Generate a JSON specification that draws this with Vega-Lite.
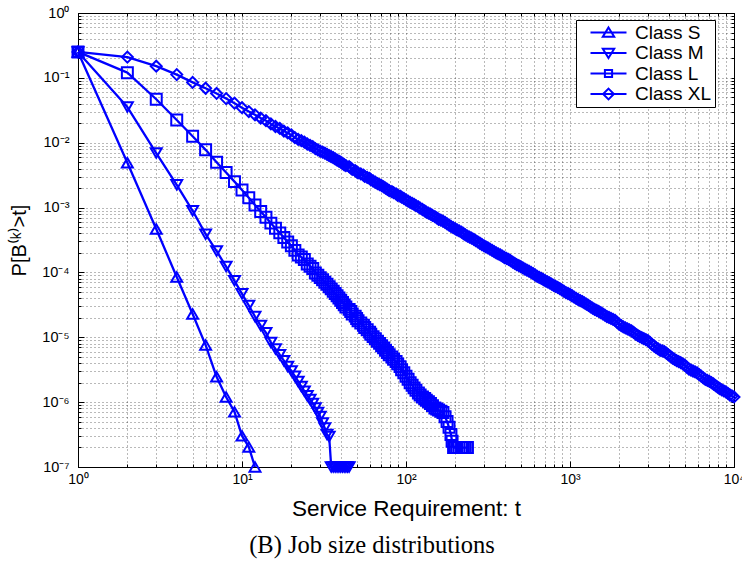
{
  "$schema": "https://vega.github.io/schema/vega-lite/v6.json",
  "width": 656,
  "height": 454,
  "autosize": {"type": "none"},
  "padding": {"left": 78, "top": 13, "right": 8, "bottom": 96},
  "background": "white",
  "title": {"text": "(B) Job size distributions", "orient": "bottom", "anchor": "middle", "frame": "group", "dx": -34, "offset": 14, "font": "Liberation Serif", "fontSize": 24.5, "fontWeight": "normal", "color": "#000"},
  "config": {
    "view": {"stroke": "#000", "strokeWidth": 1},
    "axis": {"labelFont": "Liberation Sans", "titleFont": "Liberation Sans", "tickColor": "#000", "labelColor": "#000", "titleColor": "#000", "domain": false, "labelFlush": false}
  },
  "data": {"values": [
    {"c":"Class S","t":1,"p":0.2512},{"c":"Class S","t":2,"p":4.898e-3},{"c":"Class S","t":3,"p":4.677e-4},{"c":"Class S","t":4,"p":8.511e-5},{"c":"Class S","t":5,"p":2.291e-5},{"c":"Class S","t":6,"p":7.586e-6},{"c":"Class S","t":7,"p":2.455e-6},{"c":"Class S","t":8,"p":1.202e-6},{"c":"Class S","t":9,"p":7.079e-7},{"c":"Class S","t":10,"p":3.020e-7},{"c":"Class S","t":11,"p":2.042e-7},{"c":"Class S","t":12,"p":1e-7},
    {"c":"Class M","t":1,"p":0.2512},{"c":"Class M","t":2,"p":3.548e-2},{"c":"Class M","t":3,"p":6.918e-3},{"c":"Class M","t":4,"p":2.239e-3},{"c":"Class M","t":5,"p":8.913e-4},{"c":"Class M","t":6,"p":3.890e-4},{"c":"Class M","t":7,"p":2.138e-4},{"c":"Class M","t":8,"p":1.230e-4},{"c":"Class M","t":9,"p":7.413e-5},{"c":"Class M","t":10,"p":4.677e-5},{"c":"Class M","t":11,"p":3.090e-5},{"c":"Class M","t":12,"p":2.089e-5},{"c":"Class M","t":13,"p":1.514e-5},{"c":"Class M","t":14,"p":1.175e-5},{"c":"Class M","t":15,"p":8.318e-6},{"c":"Class M","t":16,"p":6.607e-6},{"c":"Class M","t":17,"p":5.370e-6},{"c":"Class M","t":18,"p":4.365e-6},{"c":"Class M","t":19,"p":3.548e-6},{"c":"Class M","t":20,"p":3.020e-6},{"c":"Class M","t":21,"p":2.512e-6},{"c":"Class M","t":22,"p":2.089e-6},{"c":"Class M","t":23,"p":1.738e-6},{"c":"Class M","t":24,"p":1.479e-6},{"c":"Class M","t":25,"p":1.259e-6},{"c":"Class M","t":26,"p":1.096e-6},{"c":"Class M","t":27,"p":9.550e-7},{"c":"Class M","t":28,"p":8.128e-7},{"c":"Class M","t":29,"p":6.918e-7},{"c":"Class M","t":30,"p":6.026e-7},{"c":"Class M","t":31,"p":4.786e-7},{"c":"Class M","t":32,"p":3.981e-7},{"c":"Class M","t":33,"p":3.162e-7},{"c":"Class M","t":34,"p":2.951e-7},{"c":"Class M","t":35,"p":1e-7},{"c":"Class M","t":36,"p":1e-7},{"c":"Class M","t":37,"p":1e-7},{"c":"Class M","t":38,"p":1e-7},{"c":"Class M","t":39,"p":1e-7},{"c":"Class M","t":40,"p":1e-7},{"c":"Class M","t":41,"p":1e-7},{"c":"Class M","t":42,"p":1e-7},{"c":"Class M","t":43,"p":1e-7},{"c":"Class M","t":44,"p":1e-7},{"c":"Class M","t":45,"p":1e-7},
    {"c":"Class L","t":1,"p":0.2512},{"c":"Class L","t":2,"p":1.202e-1},{"c":"Class L","t":3,"p":4.677e-2},{"c":"Class L","t":4,"p":2.239e-2},{"c":"Class L","t":5,"p":1.259e-2},{"c":"Class L","t":6,"p":7.762e-3},{"c":"Class L","t":7,"p":5.012e-3},{"c":"Class L","t":8,"p":3.467e-3},{"c":"Class L","t":9,"p":2.512e-3},{"c":"Class L","t":10,"p":1.862e-3},{"c":"Class L","t":11,"p":1.413e-3},{"c":"Class L","t":12,"p":1.096e-3},{"c":"Class L","t":13,"p":8.710e-4},{"c":"Class L","t":14,"p":7.079e-4},{"c":"Class L","t":15,"p":5.754e-4},{"c":"Class L","t":16,"p":4.786e-4},{"c":"Class L","t":17,"p":4.074e-4},{"c":"Class L","t":18,"p":3.467e-4},{"c":"Class L","t":19,"p":2.951e-4},
    {"c":"Class L","t":20,"p":2.570e-4},{"c":"Class L","t":21,"p":2.188e-4},{"c":"Class L","t":22,"p":1.862e-4},{"c":"Class L","t":23,"p":1.724e-4},{"c":"Class L","t":24,"p":1.585e-4},{"c":"Class L","t":25,"p":1.349e-4},{"c":"Class L","t":26,"p":1.249e-4},{"c":"Class L","t":27,"p":1.148e-4},{"c":"Class L","t":28,"p":9.772e-5},{"c":"Class L","t":29,"p":9.045e-5},{"c":"Class L","t":30,"p":8.318e-5},{"c":"Class L","t":31,"p":7.699e-5},{"c":"Class L","t":32,"p":7.079e-5},{"c":"Class L","t":33,"p":6.553e-5},{"c":"Class L","t":34,"p":6.026e-5},{"c":"Class L","t":35,"p":5.578e-5},{"c":"Class L","t":36,"p":5.129e-5},{"c":"Class L","t":37,"p":4.747e-5},{"c":"Class L","t":38,"p":4.365e-5},{"c":"Class L","t":39,"p":4.040e-5},{"c":"Class L","t":40,"p":3.715e-5},{"c":"Class L","t":41,"p":3.439e-5},{"c":"Class L","t":42,"p":3.162e-5},{"c":"Class L","t":43,"p":2.927e-5},{"c":"Class L","t":45,"p":2.692e-5},{"c":"Class L","t":46,"p":2.492e-5},{"c":"Class L","t":47,"p":2.291e-5},{"c":"Class L","t":49,"p":2.121e-5},{"c":"Class L","t":50,"p":1.950e-5},{"c":"Class L","t":51,"p":1.805e-5},{"c":"Class L","t":53,"p":1.660e-5},{"c":"Class L","t":55,"p":1.537e-5},{"c":"Class L","t":56,"p":1.413e-5},{"c":"Class L","t":58,"p":1.308e-5},{"c":"Class L","t":60,"p":1.202e-5},{"c":"Class L","t":61,"p":1.113e-5},{"c":"Class L","t":63,"p":1.023e-5},{"c":"Class L","t":65,"p":9.470e-6},{"c":"Class L","t":67,"p":8.710e-6},{"c":"Class L","t":69,"p":8.062e-6},{"c":"Class L","t":71,"p":7.413e-6},{"c":"Class L","t":73,"p":6.862e-6},{"c":"Class L","t":75,"p":6.310e-6},{"c":"Class L","t":77,"p":5.840e-6},{"c":"Class L","t":79,"p":5.370e-6},{"c":"Class L","t":82,"p":4.971e-6},{"c":"Class L","t":84,"p":4.571e-6},{"c":"Class L","t":87,"p":4.231e-6},{"c":"Class L","t":89,"p":3.890e-6},{"c":"Class L","t":92,"p":3.526e-6},{"c":"Class L","t":94,"p":3.162e-6},{"c":"Class L","t":97,"p":2.837e-6},{"c":"Class L","t":100,"p":2.512e-6},{"c":"Class L","t":103,"p":2.254e-6},{"c":"Class L","t":106,"p":1.995e-6},{"c":"Class L","t":109,"p":1.828e-6},{"c":"Class L","t":112,"p":1.660e-6},{"c":"Class L","t":115,"p":1.520e-6},{"c":"Class L","t":119,"p":1.380e-6},{"c":"Class L","t":122,"p":1.291e-6},{"c":"Class L","t":126,"p":1.202e-6},{"c":"Class L","t":130,"p":1.137e-6},{"c":"Class L","t":133,"p":1.072e-6},{"c":"Class L","t":137,"p":1.014e-6},{"c":"Class L","t":141,"p":9.550e-7},{"c":"Class L","t":145,"p":8.839e-7},{"c":"Class L","t":150,"p":8.128e-7},{"c":"Class L","t":154,"p":7.857e-7},{"c":"Class L","t":158,"p":7.586e-7},{"c":"Class L","t":163,"p":7.252e-7},{"c":"Class L","t":168,"p":6.918e-7},{"c":"Class L","t":173,"p":5.965e-7},{"c":"Class L","t":178,"p":5.012e-7},{"c":"Class L","t":183,"p":4.087e-7},{"c":"Class L","t":188,"p":3.162e-7},{"c":"Class L","t":191,"p":2.5e-7},{"c":"Class L","t":195,"p":1.995e-7},{"c":"Class L","t":200,"p":1.995e-7},{"c":"Class L","t":205,"p":1.995e-7},{"c":"Class L","t":211,"p":1.995e-7},{"c":"Class L","t":218,"p":1.995e-7},{"c":"Class L","t":224,"p":1.995e-7},{"c":"Class L","t":230,"p":1.995e-7},{"c":"Class L","t":237,"p":1.995e-7},
    {"c":"Class XL","t":1,"p":0.2512},{"c":"Class XL","t":2,"p":0.2089},{"c":"Class XL","t":3,"p":0.1514},{"c":"Class XL","t":4,"p":0.1122},{"c":"Class XL","t":5,"p":8.511e-2},{"c":"Class XL","t":6,"p":6.918e-2},{"c":"Class XL","t":7,"p":5.754e-2},{"c":"Class XL","t":8,"p":4.786e-2},{"c":"Class XL","t":9,"p":4.074e-2},{"c":"Class XL","t":10,"p":3.467e-2},{"c":"Class XL","t":11,"p":3.020e-2},{"c":"Class XL","t":12,"p":2.692e-2},{"c":"Class XL","t":13,"p":2.399e-2},{"c":"Class XL","t":14,"p":2.188e-2},{"c":"Class XL","t":15,"p":1.950e-2},{"c":"Class XL","t":16,"p":1.778e-2},{"c":"Class XL","t":17,"p":1.660e-2},{"c":"Class XL","t":18,"p":1.514e-2},{"c":"Class XL","t":19,"p":1.413e-2},
    {"c":"Class XL","t":20,"p":1.318e-2},{"c":"Class XL","t":21,"p":1.202e-2},{"c":"Class XL","t":22,"p":1.122e-2},{"c":"Class XL","t":23,"p":1.073e-2},{"c":"Class XL","t":24,"p":1.023e-2},{"c":"Class XL","t":25,"p":9.550e-3},{"c":"Class XL","t":26,"p":9.130e-3},{"c":"Class XL","t":27,"p":8.710e-3},{"c":"Class XL","t":28,"p":8.128e-3},{"c":"Class XL","t":29,"p":7.771e-3},{"c":"Class XL","t":30,"p":7.413e-3},{"c":"Class XL","t":31,"p":7.166e-3},{"c":"Class XL","t":32,"p":6.918e-3},{"c":"Class XL","t":33,"p":6.614e-3},{"c":"Class XL","t":34,"p":6.310e-3},{"c":"Class XL","t":35,"p":6.099e-3},{"c":"Class XL","t":36,"p":5.888e-3},{"c":"Class XL","t":37,"p":5.629e-3},{"c":"Class XL","t":38,"p":5.370e-3},{"c":"Class XL","t":39,"p":5.191e-3},{"c":"Class XL","t":40,"p":5.012e-3},
    {"c":"Class XL","t":41,"p":4.792e-3},{"c":"Class XL","t":42,"p":4.571e-3},{"c":"Class XL","t":43,"p":4.419e-3},{"c":"Class XL","t":45,"p":4.266e-3},{"c":"Class XL","t":46,"p":4.078e-3},{"c":"Class XL","t":47,"p":3.890e-3},{"c":"Class XL","t":49,"p":3.719e-3},{"c":"Class XL","t":50,"p":3.548e-3},{"c":"Class XL","t":51,"p":3.430e-3},{"c":"Class XL","t":53,"p":3.311e-3},{"c":"Class XL","t":55,"p":3.166e-3},{"c":"Class XL","t":56,"p":3.020e-3},{"c":"Class XL","t":58,"p":2.919e-3},{"c":"Class XL","t":60,"p":2.818e-3},{"c":"Class XL","t":61,"p":2.694e-3},{"c":"Class XL","t":63,"p":2.570e-3},{"c":"Class XL","t":65,"p":2.457e-3},{"c":"Class XL","t":67,"p":2.344e-3},{"c":"Class XL","t":69,"p":2.266e-3},{"c":"Class XL","t":71,"p":2.188e-3},{"c":"Class XL","t":73,"p":2.092e-3},{"c":"Class XL","t":75,"p":1.995e-3},{"c":"Class XL","t":77,"p":1.908e-3},{"c":"Class XL","t":79,"p":1.820e-3},{"c":"Class XL","t":82,"p":1.759e-3},{"c":"Class XL","t":84,"p":1.698e-3},{"c":"Class XL","t":87,"p":1.624e-3},{"c":"Class XL","t":89,"p":1.549e-3},{"c":"Class XL","t":92,"p":1.497e-3},{"c":"Class XL","t":94,"p":1.445e-3},{"c":"Class XL","t":97,"p":1.382e-3},{"c":"Class XL","t":100,"p":1.318e-3},
    {"c":"Class XL","t":103,"p":1.260e-3},{"c":"Class XL","t":106,"p":1.202e-3},{"c":"Class XL","t":109,"p":1.162e-3},{"c":"Class XL","t":112,"p":1.122e-3},{"c":"Class XL","t":115,"p":1.073e-3},{"c":"Class XL","t":119,"p":1.023e-3},{"c":"Class XL","t":122,"p":9.782e-4},{"c":"Class XL","t":126,"p":9.333e-4},{"c":"Class XL","t":130,"p":8.922e-4},{"c":"Class XL","t":133,"p":8.511e-4},{"c":"Class XL","t":137,"p":8.227e-4},{"c":"Class XL","t":141,"p":7.943e-4},{"c":"Class XL","t":145,"p":7.594e-4},{"c":"Class XL","t":150,"p":7.244e-4},{"c":"Class XL","t":154,"p":6.926e-4},{"c":"Class XL","t":158,"p":6.607e-4},{"c":"Class XL","t":163,"p":6.387e-4},{"c":"Class XL","t":168,"p":6.166e-4},{"c":"Class XL","t":173,"p":5.895e-4},{"c":"Class XL","t":178,"p":5.623e-4},{"c":"Class XL","t":183,"p":5.376e-4},{"c":"Class XL","t":188,"p":5.129e-4},{"c":"Class XL","t":194,"p":4.903e-4},{"c":"Class XL","t":200,"p":4.677e-4},{"c":"Class XL","t":205,"p":4.521e-4},{"c":"Class XL","t":211,"p":4.365e-4},{"c":"Class XL","t":218,"p":4.173e-4},{"c":"Class XL","t":224,"p":3.981e-4},{"c":"Class XL","t":230,"p":3.806e-4},{"c":"Class XL","t":237,"p":3.631e-4},{"c":"Class XL","t":244,"p":3.510e-4},{"c":"Class XL","t":251,"p":3.388e-4},{"c":"Class XL","t":259,"p":3.239e-4},{"c":"Class XL","t":266,"p":3.090e-4},{"c":"Class XL","t":274,"p":2.954e-4},{"c":"Class XL","t":282,"p":2.818e-4},{"c":"Class XL","t":290,"p":2.694e-4},{"c":"Class XL","t":299,"p":2.570e-4},{"c":"Class XL","t":307,"p":2.485e-4},{"c":"Class XL","t":316,"p":2.399e-4},{"c":"Class XL","t":325,"p":2.294e-4},{"c":"Class XL","t":335,"p":2.188e-4},{"c":"Class XL","t":345,"p":2.092e-4},{"c":"Class XL","t":355,"p":1.995e-4},{"c":"Class XL","t":365,"p":1.929e-4},{"c":"Class XL","t":376,"p":1.862e-4},{"c":"Class XL","t":387,"p":1.780e-4},{"c":"Class XL","t":398,"p":1.698e-4},{"c":"Class XL","t":410,"p":1.642e-4},{"c":"Class XL","t":422,"p":1.585e-4},{"c":"Class XL","t":434,"p":1.515e-4},{"c":"Class XL","t":447,"p":1.445e-4},{"c":"Class XL","t":460,"p":1.382e-4},{"c":"Class XL","t":473,"p":1.318e-4},{"c":"Class XL","t":487,"p":1.274e-4},{"c":"Class XL","t":501,"p":1.230e-4},{"c":"Class XL","t":516,"p":1.176e-4},{"c":"Class XL","t":531,"p":1.122e-4},{"c":"Class XL","t":546,"p":1.085e-4},{"c":"Class XL","t":562,"p":1.047e-4},{"c":"Class XL","t":579,"p":1.001e-4},{"c":"Class XL","t":596,"p":9.550e-5},{"c":"Class XL","t":613,"p":9.130e-5},{"c":"Class XL","t":631,"p":8.710e-5},{"c":"Class XL","t":649,"p":8.419e-5},{"c":"Class XL","t":668,"p":8.128e-5},{"c":"Class XL","t":688,"p":7.771e-5},{"c":"Class XL","t":708,"p":7.413e-5},{"c":"Class XL","t":729,"p":7.166e-5},{"c":"Class XL","t":750,"p":6.918e-5},{"c":"Class XL","t":772,"p":6.614e-5},{"c":"Class XL","t":794,"p":6.310e-5},{"c":"Class XL","t":817,"p":6.099e-5},{"c":"Class XL","t":841,"p":5.888e-5},{"c":"Class XL","t":866,"p":5.629e-5},{"c":"Class XL","t":891,"p":5.370e-5},{"c":"Class XL","t":917,"p":5.134e-5},{"c":"Class XL","t":944,"p":4.898e-5},{"c":"Class XL","t":972,"p":4.735e-5},{"c":"Class XL","t":1000,"p":4.571e-5},
    {"c":"Class XL","t":1029,"p":4.370e-5},{"c":"Class XL","t":1059,"p":4.169e-5},{"c":"Class XL","t":1090,"p":3.986e-5},{"c":"Class XL","t":1122,"p":3.802e-5},{"c":"Class XL","t":1155,"p":3.675e-5},{"c":"Class XL","t":1189,"p":3.548e-5},{"c":"Class XL","t":1223,"p":3.392e-5},{"c":"Class XL","t":1259,"p":3.236e-5},{"c":"Class XL","t":1296,"p":3.094e-5},{"c":"Class XL","t":1334,"p":2.951e-5},{"c":"Class XL","t":1372,"p":2.822e-5},{"c":"Class XL","t":1413,"p":2.692e-5},{"c":"Class XL","t":1454,"p":2.602e-5},{"c":"Class XL","t":1496,"p":2.512e-5},{"c":"Class XL","t":1540,"p":2.402e-5},{"c":"Class XL","t":1585,"p":2.291e-5},{"c":"Class XL","t":1631,"p":2.190e-5},{"c":"Class XL","t":1679,"p":2.089e-5},{"c":"Class XL","t":1728,"p":2.020e-5},{"c":"Class XL","t":1778,"p":1.950e-5},{"c":"Class XL","t":1830,"p":1.885e-5},{"c":"Class XL","t":1884,"p":1.820e-5},{"c":"Class XL","t":1939,"p":1.703e-5},{"c":"Class XL","t":1995,"p":1.585e-5},{"c":"Class XL","t":2054,"p":1.515e-5},{"c":"Class XL","t":2113,"p":1.445e-5},{"c":"Class XL","t":2175,"p":1.397e-5},{"c":"Class XL","t":2239,"p":1.349e-5},{"c":"Class XL","t":2304,"p":1.304e-5},{"c":"Class XL","t":2371,"p":1.259e-5},{"c":"Class XL","t":2441,"p":1.191e-5},{"c":"Class XL","t":2512,"p":1.122e-5},{"c":"Class XL","t":2585,"p":1.073e-5},{"c":"Class XL","t":2661,"p":1.023e-5},{"c":"Class XL","t":2738,"p":9.890e-6},{"c":"Class XL","t":2818,"p":9.550e-6},{"c":"Class XL","t":2901,"p":9.232e-6},{"c":"Class XL","t":2985,"p":8.913e-6},{"c":"Class XL","t":3073,"p":8.338e-6},{"c":"Class XL","t":3162,"p":7.762e-6},{"c":"Class XL","t":3255,"p":7.340e-6},{"c":"Class XL","t":3350,"p":6.918e-6},{"c":"Class XL","t":3447,"p":6.614e-6},{"c":"Class XL","t":3548,"p":6.310e-6},{"c":"Class XL","t":3652,"p":6.168e-6},{"c":"Class XL","t":3758,"p":6.026e-6},{"c":"Class XL","t":3868,"p":5.698e-6},{"c":"Class XL","t":3981,"p":5.370e-6},{"c":"Class XL","t":4097,"p":5.078e-6},{"c":"Class XL","t":4217,"p":4.786e-6},{"c":"Class XL","t":4340,"p":4.576e-6},{"c":"Class XL","t":4467,"p":4.365e-6},{"c":"Class XL","t":4597,"p":4.220e-6},{"c":"Class XL","t":4732,"p":4.074e-6},{"c":"Class XL","t":4870,"p":3.895e-6},{"c":"Class XL","t":5012,"p":3.715e-6},{"c":"Class XL","t":5158,"p":3.476e-6},{"c":"Class XL","t":5309,"p":3.236e-6},{"c":"Class XL","t":5464,"p":3.128e-6},{"c":"Class XL","t":5623,"p":3.020e-6},{"c":"Class XL","t":5788,"p":2.919e-6},{"c":"Class XL","t":5957,"p":2.818e-6},{"c":"Class XL","t":6131,"p":2.665e-6},{"c":"Class XL","t":6310,"p":2.512e-6},{"c":"Class XL","t":6494,"p":2.376e-6},{"c":"Class XL","t":6683,"p":2.239e-6},{"c":"Class XL","t":6879,"p":2.164e-6},{"c":"Class XL","t":7079,"p":2.089e-6},{"c":"Class XL","t":7286,"p":1.997e-6},{"c":"Class XL","t":7499,"p":1.905e-6},{"c":"Class XL","t":7718,"p":1.802e-6},{"c":"Class XL","t":7943,"p":1.698e-6},{"c":"Class XL","t":8175,"p":1.624e-6},{"c":"Class XL","t":8414,"p":1.549e-6},{"c":"Class XL","t":8660,"p":1.497e-6},{"c":"Class XL","t":8913,"p":1.445e-6},{"c":"Class XL","t":9173,"p":1.367e-6},{"c":"Class XL","t":9441,"p":1.288e-6},{"c":"Class XL","t":9716,"p":1.245e-6},{"c":"Class XL","t":10000,"p":1.202e-6}
  ]},
  "resolve": {"scale": {"shape": "independent", "size": "independent"}, "axis": {"x": "independent", "y": "independent"}},
  "layer": [
    {
      "mark": {"type": "line", "color": "#0000ff", "strokeWidth": 2.3, "strokeJoin": "round"},
      "encoding": {
        "x": {"field": "t", "type": "quantitative", "scale": {"type": "log", "domain": [1, 10000], "nice": false},
          "axis": {"orient": "bottom", "title": null, "labels": false, "grid": true, "gridDash": [1, 3], "gridColor": "#000", "gridOpacity": 0.55, "ticks": true, "tickSize": -3,
            "values": [1,2,3,4,5,6,7,8,9,10,20,30,40,50,60,70,80,90,100,200,300,400,500,600,700,800,900,1000,2000,3000,4000,5000,6000,7000,8000,9000,10000]}},
        "y": {"field": "p", "type": "quantitative", "scale": {"type": "log", "domain": [1e-7, 1], "nice": false},
          "axis": {"orient": "left", "title": null, "labels": false, "grid": true, "gridDash": [1, 3], "gridColor": "#000", "gridOpacity": 0.55, "ticks": true, "tickSize": -3,
            "values": [1e-7,2e-7,3e-7,4e-7,5e-7,6e-7,7e-7,8e-7,9e-7,1e-6,2e-6,3e-6,4e-6,5e-6,6e-6,7e-6,8e-6,9e-6,1e-5,2e-5,3e-5,4e-5,5e-5,6e-5,7e-5,8e-5,9e-5,1e-4,2e-4,3e-4,4e-4,5e-4,6e-4,7e-4,8e-4,9e-4,1e-3,2e-3,3e-3,4e-3,5e-3,6e-3,7e-3,8e-3,9e-3,0.01,0.02,0.03,0.04,0.05,0.06,0.07,0.08,0.09,0.1,0.2,0.3,0.4,0.5,0.6,0.7,0.8,0.9,1]}},
        "detail": {"field": "c"}
      }
    },
    {
      "mark": {"type": "point", "filled": false, "color": "#0000ff", "strokeWidth": 2, "opacity": 1},
      "encoding": {
        "x": {"field": "t", "type": "quantitative", "scale": {"type": "log", "domain": [1, 10000], "nice": false},
          "axis": {"orient": "bottom", "title": "Service Requirement: t", "titleFontSize": 22.5, "titleFontWeight": "normal", "titlePadding": 11, "grid": false, "tickSize": -6,
            "labelFontSize": 14, "labelPadding": 11, "values": [1, 10, 100, 1000, 10000],
            "labelExpr": "'10' + ['⁰','¹','²','³','⁴'][round(log(datum.value)/LN10)]"}},
        "y": {"field": "p", "type": "quantitative", "scale": {"type": "log", "domain": [1e-7, 1], "nice": false},
          "axis": {"orient": "left", "title": "P[B⁽ᵏ⁾>t]", "titleFontSize": 20, "titleFontWeight": "normal", "titlePadding": 12, "grid": false, "tickSize": -6,
            "labelFontSize": 14.5, "labelPadding": 15, "values": [1e-7, 1e-6, 1e-5, 1e-4, 1e-3, 0.01, 0.1, 1],
            "labelExpr": "'10' + ['⁻⁷','⁻⁶','⁻⁵','⁻⁴','⁻³','⁻²','⁻¹','⁰'][round(log(datum.value)/LN10)+7]"}},
        "shape": {"field": "c", "type": "nominal", "scale": {"domain": ["Class S", "Class M", "Class L", "Class XL"], "range": ["triangle-up", "triangle-down", "square", "diamond"]}, "legend": null},
        "size": {"field": "c", "type": "nominal", "scale": {"domain": ["Class S", "Class M", "Class L", "Class XL"], "range": [120, 120, 81, 140]}, "legend": null}
      }
    },
    {
      "mark": {"type": "point", "filled": false, "color": "#0000ff", "opacity": 0},
      "encoding": {
        "x": {"field": "t", "type": "quantitative", "scale": {"type": "log", "domain": [1, 10000], "nice": false},
          "axis": {"orient": "top", "title": null, "labels": false, "grid": false, "tickSize": -3,
            "values": [1,2,3,4,5,6,7,8,9,10,20,30,40,50,60,70,80,90,100,200,300,400,500,600,700,800,900,1000,2000,3000,4000,5000,6000,7000,8000,9000,10000]}},
        "y": {"field": "p", "type": "quantitative", "scale": {"type": "log", "domain": [1e-7, 1], "nice": false},
          "axis": {"orient": "right", "title": null, "labels": false, "grid": false, "tickSize": -3,
            "values": [1e-7,2e-7,3e-7,4e-7,5e-7,6e-7,7e-7,8e-7,9e-7,1e-6,2e-6,3e-6,4e-6,5e-6,6e-6,7e-6,8e-6,9e-6,1e-5,2e-5,3e-5,4e-5,5e-5,6e-5,7e-5,8e-5,9e-5,1e-4,2e-4,3e-4,4e-4,5e-4,6e-4,7e-4,8e-4,9e-4,1e-3,2e-3,3e-3,4e-3,5e-3,6e-3,7e-3,8e-3,9e-3,0.01,0.02,0.03,0.04,0.05,0.06,0.07,0.08,0.09,0.1,0.2,0.3,0.4,0.5,0.6,0.7,0.8,0.9,1]}},
        "shape": {"field": "c", "type": "nominal",
          "scale": {"domain": ["Class S", "Class M", "Class L", "Class XL"],
            "range": ["M-1,0H5M2,-0.85L2.95,0.7L1.05,0.7Z", "M-1,0H5M2,0.85L2.95,-0.7L1.05,-0.7Z", "M-1,0H5M1.4,-0.6H2.6V0.6H1.4Z", "M-1,0H5M2,-0.9L2.9,0L2,0.9L1.1,0Z"]},
          "legend": {"title": null, "orient": "none", "legendX": 498, "legendY": 7, "padding": 3, "symbolOffset": 8, "symbolSize": 144,
            "symbolOpacity": 1, "symbolStrokeWidth": 2, "symbolStrokeColor": "#0000ff", "symbolFillColor": "transparent",
            "labelFont": "Liberation Sans", "labelFontSize": 19, "labelColor": "#000", "labelOffset": 29, "rowPadding": 0.5,
            "labelExpr": "datum.label + '\u00a0\u00a0'",
            "strokeColor": "#000", "fillColor": "#fff"}}
      }
    }
  ]
}
